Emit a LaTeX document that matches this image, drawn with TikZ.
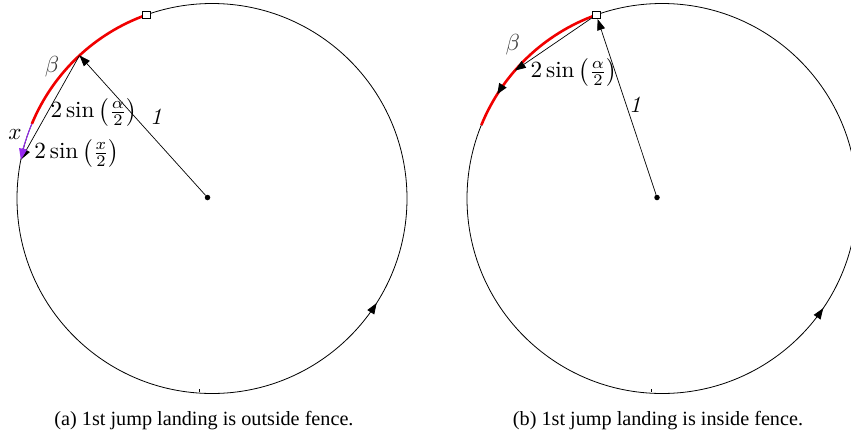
\documentclass[tikz,border=0pt]{standalone}
\usepackage{fontspec}
\newfontfamily\capfont{Liberation Serif}
\usetikzlibrary{arrows.meta,calc,decorations.markings}
\definecolor{fencered}{RGB}{240,0,0}
\definecolor{jumpviolet}{RGB}{150,40,240}
\definecolor{labelgray}{RGB}{60,60,60}
\tikzset{
  arr/.style={-{Triangle[length=11pt,width=8pt]}, line width=0.7pt},
  circ/.style={line width=0.8pt},
  redarc/.style={fencered, line width=2.6pt},
  lbl/.style={inner sep=0pt, scale=2.32},
  captext/.style={inner sep=0pt, anchor=base, font=\capfont\fontsize{20.2}{24}\selectfont},
  sq/.style={draw, fill=white, minimum size=7.5pt, inner sep=0pt, line width=0.8pt},
  dotc/.style={circle, fill, inner sep=0pt, minimum size=5.5pt},
  cmark/.style={decoration={markings, mark=at position #1 with {\arrow{Triangle[length=11pt,width=8pt,color=black]}}}, postaction=decorate}
}
\begin{document}
\begin{tikzpicture}[x=1pt,y=1pt]
\useasboundingbox (0,0) rectangle (851,-437);
% ---------- left figure ----------
\coordinate (C1) at (212,-198.5);
\coordinate (A1) at ($(C1)+(109.6:195)$);
\coordinate (R1) at ($(C1)+(157.5:195)$);
\coordinate (B1) at ($(C1)+(132.8:195)$);
\coordinate (X1) at ($(C1)+(168.5:195)$);
\draw[circ, cmark=0.91] (C1) circle[radius=195];
\draw[circ] (199,-389) -- (199,-391.5);
\draw[redarc] (A1) arc[start angle=109.6, end angle=157.5, radius=195];
\node[dotc] (O1) at (207.5,-197.5) {};
\draw[arr] (O1) -- (B1);
\draw[arr] (B1) -- (X1);
\draw[jumpviolet, line width=1pt, -{Triangle[length=11pt,width=8pt]}] (R1) arc[start angle=157.5, end angle=168.5, radius=195];
\node[sq] (S1) at (A1) {};
\node[lbl, text=labelgray] (beta1) at (52,-67) {$\beta$};
\node[lbl] (x1) at (15,-135) {$x$};
\node[lbl] (ca1) at (94,-112) {$2\sin\left(\frac{\alpha}{2}\right)$};
\node[lbl] (cx1) at (77,-153) {$2\sin\left(\frac{x}{2}\right)$};
\node[lbl] (one1) at (156,-117) {\itshape 1};
\node[captext] (capa) at (204,-425) {(a) 1st jump landing is outside fence.};
% ---------- right figure ----------
\coordinate (C2) at (662,-198.5);
\coordinate (A2) at ($(C2)+(109.7:195)$);
\coordinate (R2) at ($(C2)+(157.9:195)$);
\coordinate (J2) at ($(C2)+(139:195)$);
\draw[circ, cmark=0.905] (C2) circle[radius=195];
\draw[circ] (651.7,-389) -- (651.7,-391.5);
\draw[redarc, cmark=0.79] (A2) arc[start angle=109.7, end angle=157.9, radius=195];
\node[dotc] (O2) at (657,-197.5) {};
\node[sq] (S2) at (A2) {};
\draw[arr] (O2) -- (S2);
\draw[arr] (S2) -- (J2);
\node[lbl, text=labelgray] (beta2) at (512.7,-45) {$\beta$};
\node[lbl] (ca2) at (574,-72) {$2\sin\left(\frac{\alpha}{2}\right)$};
\node[lbl] (one2) at (635,-105) {\itshape 1};
\node[captext] (capb) at (658,-425) {(b) 1st jump landing is inside fence.};
\end{tikzpicture}
\end{document}
